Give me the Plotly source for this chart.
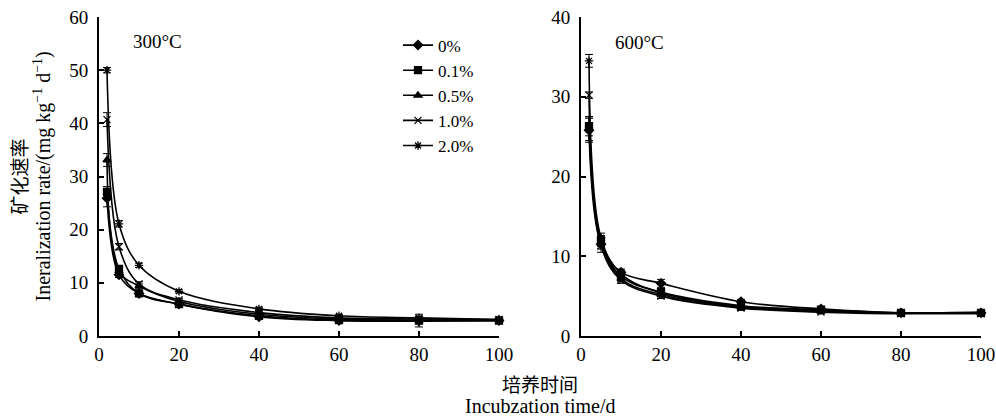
import plotly.graph_objects as go

days = [2, 5, 10, 20, 40, 60, 80, 100]
series_names = ["0%", "0.1%", "0.5%", "1.0%", "2.0%"]

# 300°C panel
t300_0 = [25.9, 11.5, 8.0, 6.0, 3.6, 2.9, 2.8, 2.9]
t300_01 = [27.1, 12.6, 8.0, 6.0, 3.8, 3.0, 2.9, 2.9]
t300_05 = [33.1, 12.2, 9.4, 6.5, 4.1, 3.2, 3.0, 3.0]
t300_10 = [40.7, 16.8, 9.8, 6.8, 4.4, 3.4, 3.2, 3.1]
t300_20 = [50.0, 21.1, 13.3, 8.4, 5.1, 3.8, 3.4, 3.1]
e300_0 = [1.6, 0.5, 0.4, 0.3, 0.3, 0.2, 0.3, 0.2]
e300_01 = [1.0, 0.6, 0.4, 0.3, 0.3, 0.2, 1.2, 0.2]
e300_05 = [1.2, 0.5, 0.4, 0.3, 0.3, 0.2, 0.3, 0.2]
e300_10 = [1.3, 0.6, 0.4, 0.3, 0.3, 0.2, 0.3, 0.2]
e300_20 = [0.5, 0.6, 0.4, 0.3, 0.3, 0.2, 0.3, 0.2]

# 600°C panel
t600_0 = [25.8, 11.5, 8.0, 6.6, 4.3, 3.4, 2.9, 2.9]
t600_01 = [26.3, 12.0, 7.5, 5.5, 3.8, 3.3, 2.9, 2.9]
t600_05 = [26.0, 11.8, 7.2, 5.2, 3.6, 3.1, 2.9, 2.9]
t600_10 = [30.2, 11.3, 7.0, 5.0, 3.5, 3.0, 2.8, 2.8]
t600_20 = [34.5, 12.3, 7.8, 5.4, 3.7, 3.2, 2.9, 3.0]
e600_0 = [1.5, 0.6, 0.4, 0.5, 0.3, 0.2, 0.2, 0.2]
e600_01 = [1.2, 0.6, 0.4, 0.3, 0.3, 0.2, 0.2, 0.2]
e600_05 = [1.5, 0.6, 0.4, 0.3, 0.3, 0.2, 0.2, 0.2]
e600_10 = [0.4, 0.8, 0.4, 0.3, 0.3, 0.2, 0.2, 0.2]
e600_20 = [0.8, 0.6, 0.4, 0.3, 0.3, 0.2, 0.2, 0.2]

symbols = ["diamond", "square", "triangle-up", "x-thin-open", "asterisk-open"]
sizes = [7, 7, 7, 7, 7]

left = [t300_0, t300_01, t300_05, t300_10, t300_20]
left_e = [e300_0, e300_01, e300_05, e300_10, e300_20]
right = [t600_0, t600_01, t600_05, t600_10, t600_20]
right_e = [e600_0, e600_01, e600_05, e600_10, e600_20]

FONT = "Liberation Serif, Times New Roman, serif"
CJK = "Noto Sans CJK SC"

fig = go.Figure()

def add(ys, es, name, sym, size, xa, ya, show):
    fig.add_trace(go.Scatter(
        x=days, y=ys, name=name, mode="lines+markers",
        line=dict(color="black", width=1.6, shape="spline", smoothing=1.0),
        marker=dict(symbol=sym, size=size, color="black",
                    line=dict(color="black", width=1.3)),
        error_y=dict(type="data", array=es, visible=True, color="black",
                     thickness=1, width=4),
        xaxis=xa, yaxis=ya, showlegend=show, cliponaxis=False,
    ))

for i in range(5):
    add(left[i], left_e[i], series_names[i], symbols[i], sizes[i], "x", "y", True)
for i in range(5):
    add(right[i], right_e[i], series_names[i], symbols[i], sizes[i], "x2", "y2", False)

axis_common = dict(showline=True, linecolor="black", linewidth=2, ticks="inside",
                   ticklen=5, tickwidth=1.5, tickcolor="black", showgrid=False,
                   zeroline=False, mirror=False,
                   tickfont=dict(family=FONT, size=19, color="black"))

fig.update_layout(
    width=996, height=418,
    margin=dict(l=99, r=15, t=17, b=82, autoexpand=False),
    paper_bgcolor="white", plot_bgcolor="white",
    font=dict(family=FONT, size=19, color="black"),
    xaxis=dict(domain=[0, 400/882], range=[0, 100], tickvals=[0, 20, 40, 60, 80, 100],
               anchor="y", **axis_common),
    yaxis=dict(domain=[0, 1], range=[0, 60], tickvals=[0, 10, 20, 30, 40, 50, 60],
               anchor="x", ticklabelstandoff=5, **axis_common),
    xaxis2=dict(domain=[482/882, 882/882], range=[0, 100], tickvals=[0, 20, 40, 60, 80, 100],
                anchor="y2", **axis_common),
    yaxis2=dict(domain=[0, 1], range=[0, 40], tickvals=[0, 10, 20, 30, 40],
                anchor="x2", ticklabelstandoff=5, **axis_common),
    legend=dict(x=0.339, y=0.967, xanchor="left", yanchor="top",
                bgcolor="rgba(0,0,0,0)", font=dict(family=FONT, size=17),
                tracegroupgap=0, itemwidth=30),
    annotations=[
        dict(text="300°C", x=14.5, y=55.3, xref="x", yref="y", showarrow=False,
             font=dict(family=FONT, size=19)),
        dict(text="600°C", x=14.5, y=36.8, xref="x2", yref="y2", showarrow=False,
             font=dict(family=FONT, size=19)),
        dict(text="矿化速率", x=0, y=0.5, xref="paper", yref="paper", showarrow=False,
             textangle=-90, xanchor="center", yanchor="middle", xshift=-81,
             font=dict(family=CJK, size=19)),
        dict(text="Ineralization rate/(mg kg<sup>−1</sup> d<sup>−1</sup>)", x=0, y=0.5,
             xref="paper", yref="paper", showarrow=False, textangle=-90,
             xanchor="center", yanchor="middle", xshift=-57,
             font=dict(family=FONT, size=20)),
        dict(text="培养时间", x=0.5, y=0, xref="paper", yref="paper", showarrow=False,
             xanchor="center", yanchor="middle", yshift=-47,
             font=dict(family=CJK, size=19)),
        dict(text="Incubzation time/d", x=0.5, y=0, xref="paper", yref="paper",
             showarrow=False, xanchor="center", yanchor="middle", yshift=-70,
             font=dict(family=FONT, size=20)),
    ],
)

fig.write_html("out.html", config={"displayModeBar": False},
               post_script="document.body.style.margin='0';document.body.style.overflow='hidden';")
